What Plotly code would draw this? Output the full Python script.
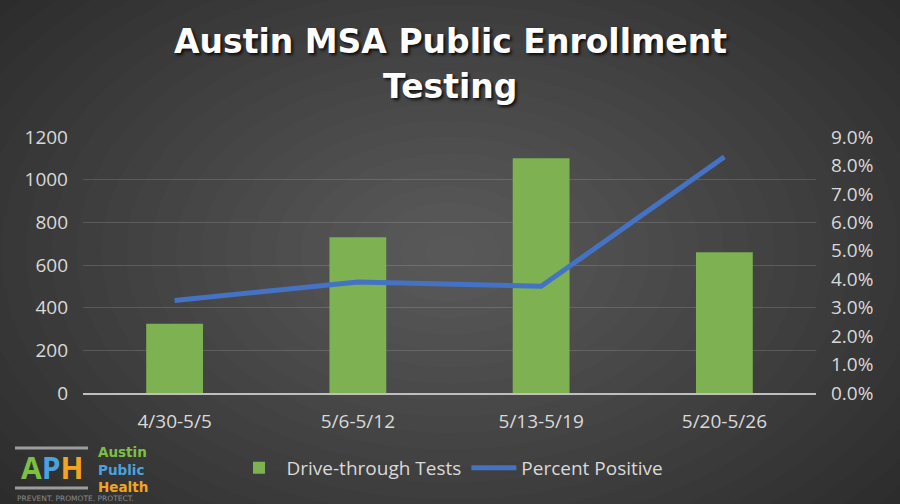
import plotly.graph_objects as go

# data
weeks = ["4/30-5/5", "5/6-5/12", "5/13-5/19", "5/20-5/26"]
drive_through_tests = [325, 730, 1100, 660]
percent_positive = [0.0325, 0.039, 0.0375, 0.083]

# plot area in pixels (900x504 page)
L, R, T, B = 83, 816, 137, 393
W, H = 900, 504


def px(x):
    return (x - L) / (R - L)


def py(y):
    return (B - y) / (B - T)


txt = "#d9d9d9"
font = "Open Sans"

fig = go.Figure()

fig.add_trace(go.Bar(x=weeks, y=drive_through_tests, name="Drive-through Tests",
                     marker=dict(color="#7db152", line=dict(width=0))))
fig.add_trace(go.Scatter(x=weeks, y=percent_positive, name="Percent Positive", yaxis="y2",
                         mode="lines", line=dict(color="#4472c4", width=5)))

# radial background: dark edges, lighter middle
shapes = []
n = 26
for i in range(n):
    f = 1 - i / n
    rx, ry = 0.72 * f, 0.85 * f
    cx, cy = 0.5, 0.5
    shapes.append(dict(type="circle", xref="paper", yref="paper", layer="below",
                       x0=px(W * (cx - rx)), x1=px(W * (cx + rx)),
                       y0=py(H * (cy + ry)), y1=py(H * (cy - ry)),
                       fillcolor="rgba(255,255,255,0.011)", line=dict(width=0)))

# logo rules
for yy in (448, 488):
    shapes.append(dict(type="line", xref="paper", yref="paper", layer="above",
                       x0=px(15), x1=px(88), y0=py(yy), y1=py(yy),
                       line=dict(color="#9c9c9c", width=3)))


def note(text, x, y, size, color, family=font, xanchor="center"):
    return dict(text=text, x=px(x), y=py(y), xref="paper", yref="paper",
                xanchor=xanchor, yanchor="middle", showarrow=False, align="left",
                font=dict(family=family, size=size, color=color))


title_font = dict(family="DejaVu Sans", size=33, color="white",
                  shadow="2px 2px 3px rgba(0,0,0,0.8)")
t1 = note("<b>Austin MSA Public Enrollment</b>", 450, 41, 33, "white")
t1["font"] = title_font
t2 = note("<b>Testing</b>", 450, 86, 33, "white")
t2["font"] = title_font

annotations = [
    t1, t2,
    note("<b><span style='color:#7cc043'>A</span><span style='color:#4aa3dc'>P</span>"
         "<span style='color:#f3a51f'>H</span></b>", 52, 467, 30, "#7cc043"),
    note("<b><span style='color:#7cc043'>Austin</span><br>"
         "<span style='color:#4aa3dc'>Public</span><br>"
         "<span style='color:#f3a51f'>Health</span></b>", 96, 469, 13.5, "#7cc043",
         "DejaVu Sans", "left"),
    note("PREVENT. PROMOTE. PROTECT.", 15, 498, 7.5, "#8a8a8a", "DejaVu Sans", "left"),
]

fig.update_layout(
    width=W, height=H,
    margin=dict(l=L, r=W - R, t=T, b=H - B),
    paper_bgcolor="#262626",
    plot_bgcolor="rgba(0,0,0,0)",
    font=dict(family=font, size=19, color=txt),
    bargap=0.69,
    showlegend=True,
    legend=dict(orientation="h", x=px(450), xanchor="center", y=py(468), yanchor="middle",
                font=dict(size=19, color=txt), bgcolor="rgba(0,0,0,0)", itemwidth=45),
    xaxis=dict(showgrid=False, showline=True, linecolor="#bfbfbf", linewidth=2,
               ticks="", ticklabelstandoff=10, tickfont=dict(size=19, color=txt)),
    yaxis=dict(range=[0, 1200], dtick=200, showgrid=True,
               gridcolor="rgba(255,255,255,0.14)", gridwidth=1, zeroline=False,
               ticks="", ticklabelstandoff=14, tickfont=dict(size=19, color=txt)),
    yaxis2=dict(range=[0, 0.09], dtick=0.01, tickformat=".1%", overlaying="y", side="right",
                showgrid=False, zeroline=False, ticks="", ticklabelstandoff=14,
                tickfont=dict(size=19, color=txt)),
    shapes=shapes,
    annotations=annotations,
)

fig.write_html("out.html", config={"displayModeBar": False},
               post_script="document.body.style.margin='0';")
